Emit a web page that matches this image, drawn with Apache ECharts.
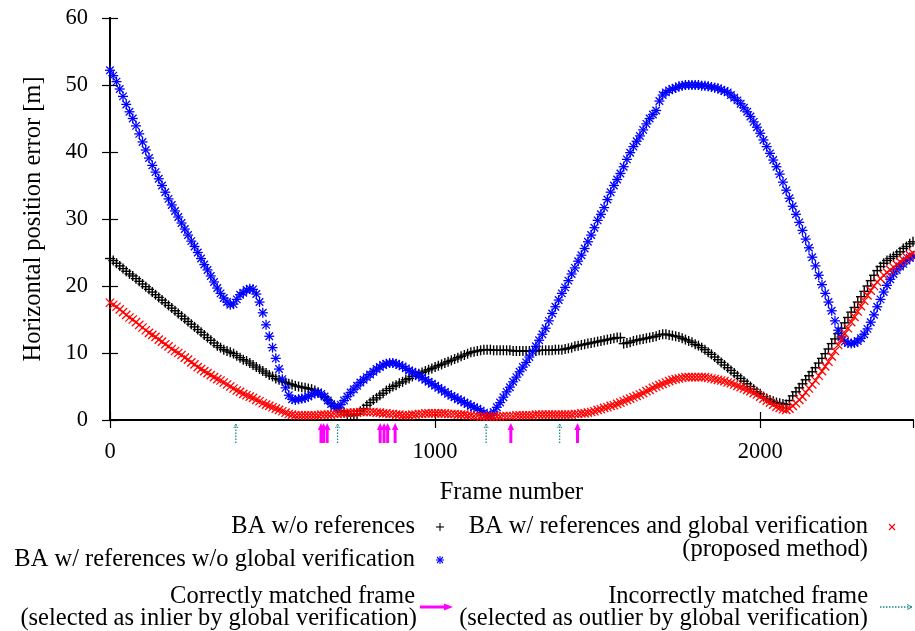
<!DOCTYPE html>
<html>
<head>
<meta charset="utf-8">
<script src="https://cdn.jsdelivr.net/npm/echarts@6/dist/echarts.min.js"></script>
<style>
  html, body { margin: 0; padding: 0; background: #fff; }
  #chart { width: 915px; height: 631px; }
</style>
</head>
<body>
<div id="chart"></div>
<script>
// Frame numbers at which the horizontal error is plotted
const FRAMES = [
  0, 10, 20, 30, 40, 50, 60, 70, 80, 90,
  100, 110, 120, 130, 140, 150, 160, 170, 180, 190,
  200, 210, 220, 230, 240, 250, 260, 270, 280, 290,
  300, 310, 320, 330, 340, 350, 360, 370, 380, 390,
  400, 410, 420, 430, 440, 450, 460, 470, 480, 490,
  500, 510, 520, 530, 540, 550, 560, 570, 580, 590,
  600, 610, 620, 630, 640, 650, 660, 670, 680, 690,
  700, 710, 720, 730, 740, 750, 760, 770, 780, 790,
  800, 810, 820, 830, 840, 850, 860, 870, 880, 890,
  900, 910, 920, 930, 940, 950, 960, 970, 980, 990,
  1000, 1010, 1020, 1030, 1040, 1050, 1060, 1070, 1080, 1090,
  1100, 1110, 1120, 1130, 1140, 1150, 1160, 1170, 1180, 1190,
  1200, 1210, 1220, 1230, 1240, 1250, 1260, 1270, 1280, 1290,
  1300, 1310, 1320, 1330, 1340, 1350, 1360, 1370, 1380, 1390,
  1400, 1410, 1420, 1430, 1440, 1450, 1460, 1470, 1480, 1490,
  1500, 1510, 1520, 1530, 1540, 1550, 1560, 1570, 1580, 1590,
  1600, 1610, 1620, 1630, 1640, 1650, 1660, 1670, 1680, 1690,
  1700, 1710, 1720, 1730, 1740, 1750, 1760, 1770, 1780, 1790,
  1800, 1810, 1820, 1830, 1840, 1850, 1860, 1870, 1880, 1890,
  1900, 1910, 1920, 1930, 1940, 1950, 1960, 1970, 1980, 1990,
  2000, 2010, 2020, 2030, 2040, 2050, 2060, 2070, 2080, 2090,
  2100, 2110, 2120, 2130, 2140, 2150, 2160, 2170, 2180, 2190,
  2200, 2210, 2220, 2230, 2240, 2250, 2260, 2270, 2280, 2290,
  2300, 2310, 2320, 2330, 2340, 2350, 2360, 2370, 2380, 2390,
  2400, 2410, 2420, 2430, 2440, 2450, 2460, 2470
];

// Horizontal position error [m], BA without references
const ERR_BA_NO_REF = [
  24.1, 23.8, 23.4, 23.0, 22.6, 22.2, 21.8, 21.5, 21.1, 20.7,
  20.3, 19.9, 19.5, 19.1, 18.7, 18.3, 17.9, 17.5, 17.1, 16.7,
  16.3, 15.9, 15.5, 15.1, 14.7, 14.3, 13.9, 13.5, 13.1, 12.7,
  12.3, 11.9, 11.5, 11.1, 10.8, 10.5, 10.3, 10.1, 9.9, 9.6,
  9.3, 9.0, 8.8, 8.5, 8.2, 7.9, 7.6, 7.3, 7.0, 6.7,
  6.5, 6.2, 6.0, 5.8, 5.6, 5.4, 5.3, 5.1, 5.0, 4.9,
  4.8, 4.7, 4.6, 4.4, 4.1, 3.8, 3.4, 3.0, 2.5, 2.1,
  1.8, 1.4, 1.1, 0.8, 0.6, 0.7, 0.9, 1.3, 1.7, 2.2,
  2.6, 3.0, 3.3, 3.7, 4.0, 4.4, 4.7, 5.0, 5.2, 5.5,
  5.7, 6.0, 6.2, 6.5, 6.7, 6.9, 7.1, 7.3, 7.5, 7.7,
  7.9, 8.1, 8.3, 8.5, 8.7, 8.9, 9.1, 9.3, 9.5, 9.7,
  9.9, 10.1, 10.2, 10.3, 10.4, 10.5, 10.5, 10.5, 10.4, 10.4,
  10.4, 10.4, 10.4, 10.4, 10.3, 10.3, 10.3, 10.3, 10.3, 10.3,
  10.3, 10.3, 10.4, 10.4, 10.4, 10.4, 10.4, 10.5, 10.5, 10.5,
  10.6, 10.7, 10.8, 11.0, 11.1, 11.2, 11.3, 11.4, 11.5, 11.6,
  11.7, 11.8, 11.9, 12.0, 12.1, 12.2, 12.3, 12.3, 11.4, 11.5,
  11.6, 11.8, 11.9, 12.0, 12.1, 12.2, 12.3, 12.4, 12.5, 12.7,
  12.8, 12.8, 12.7, 12.6, 12.5, 12.4, 12.2, 12.0, 11.8, 11.6,
  11.3, 11.1, 10.8, 10.5, 10.1, 9.8, 9.4, 9.0, 8.6, 8.2,
  7.8, 7.4, 7.0, 6.6, 6.2, 5.8, 5.4, 5.0, 4.6, 4.2,
  3.9, 3.5, 3.2, 3.0, 2.8, 2.6, 2.5, 2.4, 2.3, 2.9,
  3.6, 4.2, 4.8, 5.4, 6.0, 6.6, 7.2, 7.8, 8.5, 9.2,
  9.9, 10.6, 11.4, 12.1, 12.9, 13.7, 14.5, 15.3, 16.1, 16.8,
  17.6, 18.4, 19.2, 20.0, 20.8, 21.6, 22.3, 22.9, 23.4, 23.8,
  24.1, 24.4, 24.7, 25.1, 25.6, 25.9, 26.3, 26.6
];

// BA with references, without global verification
const ERR_BA_REF_NO_GV = [
  52.2, 51.4, 50.5, 49.4, 48.3, 47.1, 46.0, 45.0, 43.9, 42.7,
  41.5, 40.3, 39.1, 38.0, 37.0, 36.0, 35.0, 34.0, 33.0, 32.1,
  31.2, 30.3, 29.4, 28.5, 27.6, 26.7, 25.9, 25.0, 24.1, 23.2,
  22.4, 21.5, 20.6, 19.7, 18.9, 18.2, 17.6, 17.2, 17.3, 18.0,
  18.7, 19.0, 19.4, 19.6, 19.5, 18.8, 17.6, 16.0, 14.2, 12.5,
  10.8, 9.2, 7.6, 6.1, 4.8, 3.7, 3.1, 3.0, 3.1, 3.2,
  3.3, 3.5, 3.8, 4.0, 4.1, 3.9, 3.5, 2.9, 2.4, 2.0,
  1.8, 2.3, 2.9, 3.5, 4.1, 4.6, 5.1, 5.6, 6.0, 6.4,
  6.8, 7.2, 7.6, 7.9, 8.2, 8.4, 8.5, 8.5, 8.4, 8.2,
  8.0, 7.7, 7.4, 7.2, 6.9, 6.6, 6.3, 6.0, 5.7, 5.4,
  5.1, 4.8, 4.5, 4.2, 3.9, 3.6, 3.4, 3.1, 2.9, 2.6,
  2.4, 2.1, 1.9, 1.7, 1.4, 1.1, 0.8, 0.7, 1.2, 1.9,
  2.6, 3.4, 4.2, 4.9, 5.7, 6.4, 7.2, 7.9, 8.6, 9.4,
  10.2, 11.0, 11.9, 12.8, 13.7, 14.8, 15.9, 16.9, 17.9, 18.9,
  19.8, 20.8, 21.8, 22.7, 23.7, 24.6, 25.6, 26.6, 27.6, 28.7,
  29.8, 30.7, 31.7, 32.9, 34.0, 35.0, 35.9, 36.8, 37.8, 38.9,
  39.9, 40.8, 41.6, 42.4, 43.3, 44.2, 45.0, 45.6, 46.2, 47.6,
  48.5, 48.9, 49.2, 49.4, 49.6, 49.8, 49.9, 50.0, 50.0, 50.0,
  50.0, 50.0, 49.9, 49.9, 49.8, 49.7, 49.6, 49.5, 49.3, 49.1,
  48.9, 48.5, 48.1, 47.7, 47.2, 46.6, 46.0, 45.3, 44.5, 43.7,
  42.8, 41.8, 40.8, 39.8, 38.8, 37.8, 36.7, 35.5, 34.3, 33.1,
  31.9, 30.7, 29.5, 28.3, 27.0, 25.7, 24.3, 23.0, 21.6, 20.2,
  18.9, 17.6, 16.3, 14.8, 13.4, 12.4, 11.7, 11.5, 11.4, 11.5,
  11.8, 12.2, 12.8, 13.6, 14.6, 15.7, 16.9, 18.0, 19.1, 20.1,
  21.0, 21.8, 22.4, 22.9, 23.3, 23.8, 24.2, 24.4
];

// BA with references and global verification (proposed method)
const ERR_BA_REF_GV = [
  17.5, 17.2, 16.9, 16.5, 16.1, 15.7, 15.3, 15.0, 14.6, 14.2,
  13.8, 13.4, 13.0, 12.7, 12.4, 12.0, 11.7, 11.3, 11.0, 10.6,
  10.3, 10.0, 9.7, 9.3, 9.0, 8.6, 8.3, 7.9, 7.6, 7.3,
  7.0, 6.7, 6.4, 6.1, 5.9, 5.6, 5.3, 5.0, 4.7, 4.4,
  4.2, 3.9, 3.7, 3.5, 3.3, 3.0, 2.8, 2.5, 2.3, 2.1,
  1.9, 1.7, 1.5, 1.3, 1.1, 0.9, 0.8, 0.7, 0.7, 0.7,
  0.7, 0.7, 0.7, 0.7, 0.7, 0.8, 0.8, 0.8, 0.8, 0.9,
  0.9, 1.0, 1.0, 1.1, 1.1, 1.1, 1.1, 1.2, 1.2, 1.2,
  1.2, 1.2, 1.1, 1.1, 1.0, 1.0, 0.9, 0.9, 0.8, 0.8,
  0.7, 0.7, 0.7, 0.8, 0.8, 0.9, 0.9, 1.0, 1.0, 1.0,
  1.0, 1.0, 1.0, 1.0, 0.9, 0.9, 0.9, 0.8, 0.8, 0.8,
  0.7, 0.7, 0.6, 0.6, 0.5, 0.5, 0.5, 0.5, 0.5, 0.5,
  0.5, 0.6, 0.6, 0.6, 0.6, 0.7, 0.7, 0.7, 0.7, 0.7,
  0.7, 0.8, 0.8, 0.8, 0.8, 0.8, 0.8, 0.8, 0.8, 0.8,
  0.8, 0.8, 0.8, 0.9, 0.9, 1.0, 1.0, 1.1, 1.2, 1.3,
  1.5, 1.6, 1.8, 1.9, 2.1, 2.2, 2.4, 2.6, 2.8, 3.0,
  3.2, 3.4, 3.6, 3.8, 4.0, 4.3, 4.5, 4.8, 5.0, 5.2,
  5.4, 5.6, 5.8, 6.0, 6.1, 6.2, 6.3, 6.4, 6.4, 6.4,
  6.4, 6.4, 6.4, 6.4, 6.3, 6.2, 6.1, 6.0, 5.9, 5.8,
  5.6, 5.5, 5.3, 5.1, 4.9, 4.7, 4.5, 4.3, 4.0, 3.8,
  3.5, 3.2, 2.9, 2.6, 2.3, 2.0, 1.8, 1.6, 1.5, 1.7,
  2.1, 2.5, 3.0, 3.5, 4.1, 4.7, 5.3, 5.9, 6.6, 7.3,
  8.0, 8.7, 9.5, 10.3, 11.2, 12.0, 12.9, 13.7, 14.6, 15.4,
  16.2, 17.0, 17.8, 18.6, 19.3, 20.0, 20.6, 21.1, 21.6, 22.0,
  22.4, 22.8, 23.2, 23.6, 23.9, 24.3, 24.6, 24.9
];

// Frames matched to a reference image
const INLIER_FRAMES = [649, 657, 668, 831, 843, 854, 877, 1233, 1438];
const OUTLIER_FRAMES = [387, 700, 1157, 1383];

const X_TICKS = { min: 0, max: 2470, step: 1000 };
const Y_TICKS = { min: 0, max: 60, step: 10 };

const FONT_FAMILY = '"Liberation Serif", "DejaVu Serif", serif';
const TEXT_SIZE = 24.5;
const TICK_SIZE = 22.5;
const FONT = TEXT_SIZE + 'px ' + FONT_FAMILY;
const C_BLACK = '#000000';
const C_BLUE = '#0000ff';
const C_RED = '#ff0000';
const C_MAGENTA = '#ff00ff';
const C_TEAL = '#1a8a8a';

// Line segments forming a gnuplot-style point marker
function markerSegments(kind, x, y, r) {
  const plus = [[x - r, y, x + r, y], [x, y - r, x, y + r]];
  const d = r * 0.75;
  const cross = [[x - d, y - d, x + d, y + d], [x - d, y + d, x + d, y - d]];
  if (kind === 'plus') return plus;
  if (kind === 'cross') return cross;
  return plus.concat(cross);
}

function markerShapes(kind, x, y, r, color, lw) {
  return markerSegments(kind, x, y, r).map(s => ({
    type: 'line',
    shape: { x1: s[0], y1: s[1], x2: s[2], y2: s[3] },
    style: { stroke: color, lineWidth: lw }
  }));
}

function pointSeries(name, values, kind, color, r, lw, z) {
  return {
    type: 'custom',
    name: name,
    coordinateSystem: 'cartesian2d',
    clip: false,
    silent: true,
    z: z,
    data: FRAMES.map((f, i) => [f, values[i]]),
    encode: { x: 0, y: 1 },
    renderItem: function (params, api) {
      const p = api.coord([api.value(0), api.value(1)]);
      return { type: 'group', children: markerShapes(kind, p[0], p[1], r, color, lw) };
    }
  };
}

// Upward arrows under the x axis marking matched frames
function arrowShapes(x, yBase, solid) {
  const tip = yBase + 3;
  const bottom = yBase + 23;
  if (solid) {
    return [
      { type: 'line', shape: { x1: x, y1: bottom, x2: x, y2: tip + 6 },
        style: { stroke: C_MAGENTA, lineWidth: 3 } },
      { type: 'polygon', shape: { points: [[x - 3.2, tip + 7], [x + 3.2, tip + 7], [x, tip]] },
        style: { fill: C_MAGENTA } }
    ];
  }
  return [
    { type: 'line', shape: { x1: x, y1: bottom, x2: x, y2: tip + 1 },
      style: { stroke: C_TEAL, lineWidth: 1.3, lineDash: [1.5, 1.5] } },
    { type: 'polyline', shape: { points: [[x - 2, tip + 5], [x, tip + 1], [x + 2, tip + 5]] },
      style: { stroke: C_TEAL, lineWidth: 1, fill: null, lineDash: [1.5, 1] } }
  ];
}

function arrowSeries(name, frames, solid) {
  return {
    type: 'custom',
    name: name,
    coordinateSystem: 'cartesian2d',
    clip: false,
    silent: true,
    z: 5,
    data: frames.map(f => [f, 0]),
    encode: { x: 0, y: 1 },
    renderItem: function (params, api) {
      const p = api.coord([api.value(0), 0]);
      return { type: 'group', children: arrowShapes(p[0], p[1], solid) };
    }
  };
}

const NAME_NO_REF = 'BA w/o references';
const NAME_REF_NO_GV = 'BA w/ references w/o global verification';
const NAME_REF_GV = 'BA w/ references and global verification';

function text(str, x, y, align) {
  return {
    type: 'text', silent: true,
    style: { text: str, x: x, y: y, font: FONT, fill: '#000', align: align || 'right', verticalAlign: 'middle' }
  };
}

function legendMarker(kind, x, y, r, color) {
  return { type: 'group', silent: true, children: markerShapes(kind, x, y, r, color, 1.1) };
}

const legend = [
  text(NAME_NO_REF, 415, 527),
  legendMarker('plus', 440, 527, 4, C_BLACK),
  text(NAME_REF_NO_GV, 415, 560),
  legendMarker('star', 440, 560, 4, C_BLUE),
  text(NAME_REF_GV, 868, 527),
  text('(proposed method)', 868, 550),
  legendMarker('cross', 892, 527, 4, C_RED),
  text('Correctly matched frame', 415, 597),
  text('(selected as inlier by global verification)', 417, 619),
  { type: 'group', silent: true, children: [
    { type: 'line', shape: { x1: 420, y1: 607, x2: 445, y2: 607 }, style: { stroke: C_MAGENTA, lineWidth: 3 } },
    { type: 'polygon', shape: { points: [[444, 603.5], [444, 610.5], [453, 607]] }, style: { fill: C_MAGENTA } }
  ] },
  text('Incorrectly matched frame', 868, 597),
  text('(selected as outlier by global verification)', 868, 619),
  { type: 'group', silent: true, children: [
    { type: 'line', shape: { x1: 880, y1: 607, x2: 912, y2: 607 }, style: { stroke: C_TEAL, lineWidth: 1.3, lineDash: [1.5, 1.5] } },
    { type: 'polyline', shape: { points: [[907, 604.5], [912, 607], [907, 609.5]] }, style: { stroke: C_TEAL, lineWidth: 1, fill: null } }
  ] }
];

const axisLine = { show: true, lineStyle: { color: '#000', width: 2 } };
const innerTick = { show: true, inside: true, length: 8, lineStyle: { color: '#000', width: 1.2 } };
const labelStyle = { color: '#000', fontFamily: FONT_FAMILY, fontSize: TICK_SIZE, formatter: v => String(v) };
const nameStyle = { color: '#000', fontFamily: FONT_FAMILY, fontSize: TEXT_SIZE };

const chart = echarts.init(document.getElementById('chart'), null, { renderer: 'canvas' });
chart.setOption({
  animation: false,
  backgroundColor: '#fff',
  grid: { left: 110, top: 18, right: 2, bottom: 211, containLabel: false },
  xAxis: [
    {
      type: 'value', position: 'bottom',
      min: X_TICKS.min, max: X_TICKS.max, interval: X_TICKS.step,
      axisLine: axisLine, axisTick: innerTick, splitLine: { show: false },
      axisLabel: Object.assign({ margin: 21, showMaxLabel: false }, labelStyle),
      name: 'Frame number', nameLocation: 'middle', nameGap: 60,
      nameTextStyle: nameStyle
    },
    {
      type: 'value', position: 'top',
      min: X_TICKS.min, max: X_TICKS.max, interval: X_TICKS.step,
      axisLine: axisLine, axisTick: innerTick, splitLine: { show: false },
      axisLabel: { show: false }
    }
  ],
  yAxis: [
    {
      type: 'value', position: 'left',
      min: Y_TICKS.min, max: Y_TICKS.max, interval: Y_TICKS.step,
      axisLine: axisLine, axisTick: innerTick, splitLine: { show: false },
      axisLabel: Object.assign({ margin: 22 }, labelStyle),
      name: 'Horizontal position error [m]', nameLocation: 'middle', nameGap: 64, nameRotate: 90,
      nameTextStyle: nameStyle
    },
    {
      type: 'value', position: 'right',
      min: Y_TICKS.min, max: Y_TICKS.max, interval: Y_TICKS.step,
      axisLine: axisLine, axisTick: innerTick, splitLine: { show: false },
      axisLabel: { show: false }
    }
  ],
  series: [
    pointSeries(NAME_NO_REF, ERR_BA_NO_REF, 'plus', C_BLACK, 5, 1.4, 2),
    pointSeries(NAME_REF_NO_GV, ERR_BA_REF_NO_GV, 'star', C_BLUE, 5, 1.3, 3),
    pointSeries(NAME_REF_GV, ERR_BA_REF_GV, 'cross', C_RED, 5.5, 1.3, 4),
    arrowSeries('Correctly matched frame', INLIER_FRAMES, true),
    arrowSeries('Incorrectly matched frame', OUTLIER_FRAMES, false)
  ],
  graphic: legend
});
</script>
</body>
</html>
